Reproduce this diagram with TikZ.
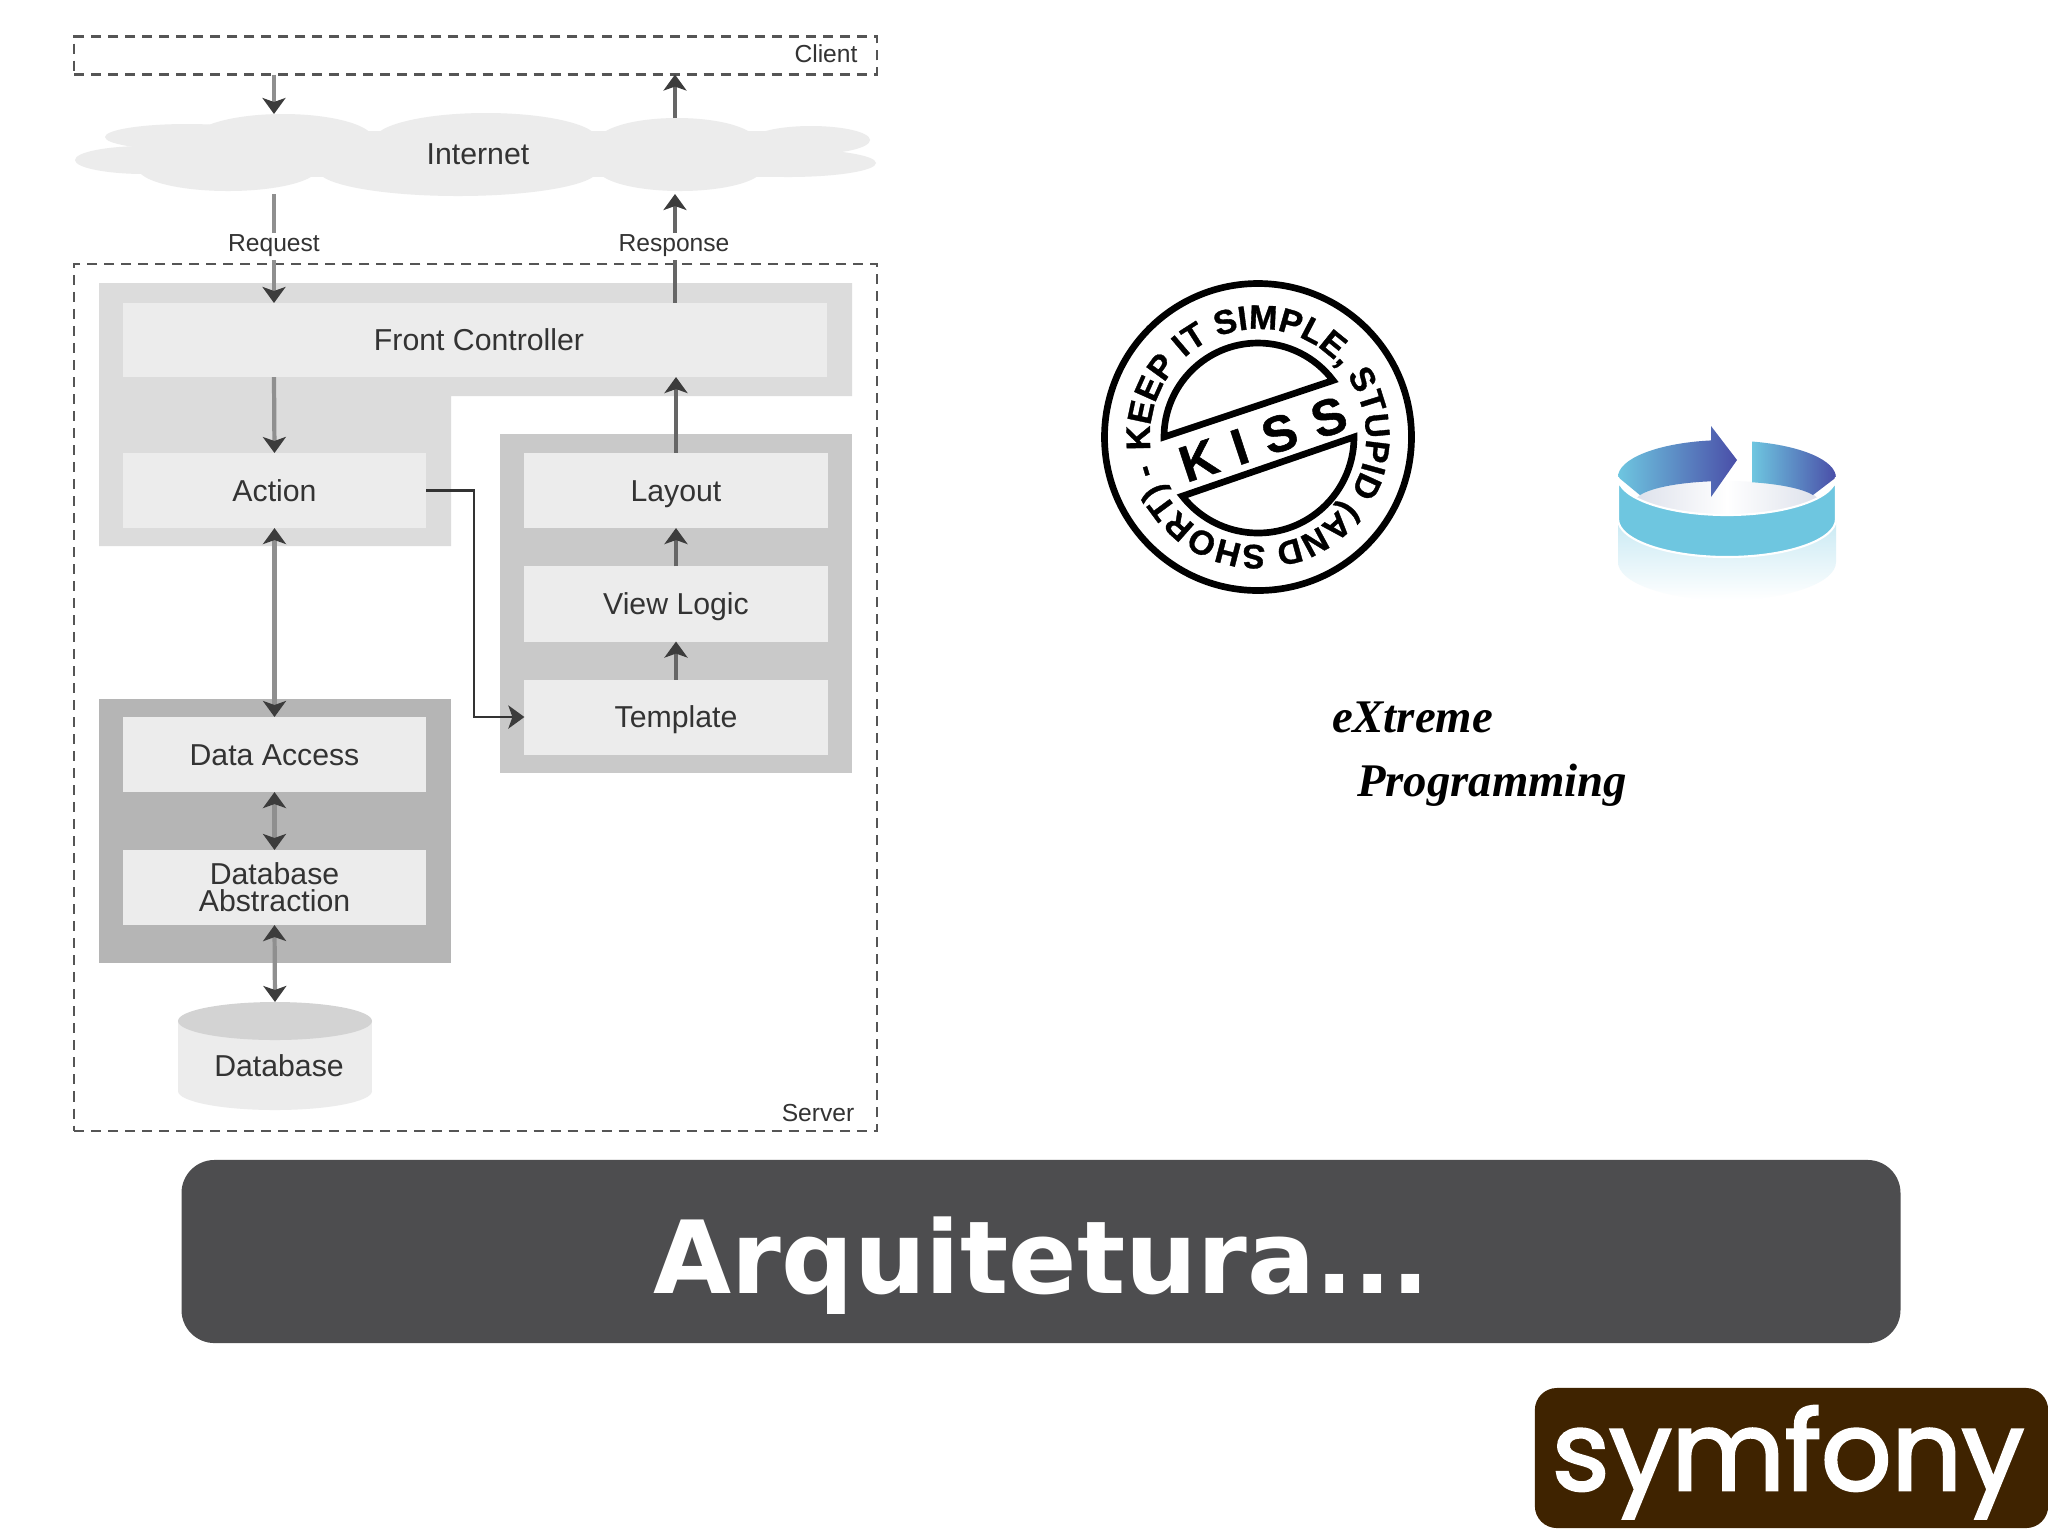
\documentclass[tikz,border=0pt]{standalone}
\usepackage{fontspec}
\usepackage{xcolor}
\usepackage{tikz}
\usetikzlibrary{arrows.meta,decorations.text}
\setmainfont{Liberation Sans}
\newfontfamily\titlefont{DejaVu Sans}
\newfontfamily\xpfont{Liberation Serif}
\newfontfamily\logofont[FakeBold=2.5]{Poppins}
\newfontfamily\stampfont[FakeBold=1]{Liberation Sans}
\newfontfamily\kissfont[LetterSpace=35,FakeBold=1]{Liberation Sans}
\definecolor{textgray}{HTML}{333333}
\definecolor{dashgray}{HTML}{555555}
\definecolor{headgray}{HTML}{3C3C3C}
\definecolor{shaftlight}{HTML}{8F8F8F}
\definecolor{shaftdark}{HTML}{666666}
\definecolor{boxgray}{HTML}{ECECEC}
\definecolor{ctrlgray}{HTML}{DCDCDC}
\definecolor{viewgray}{HTML}{C9C9C9}
\definecolor{datagray}{HTML}{B5B5B5}
\definecolor{dbtop}{HTML}{D3D3D3}
\definecolor{titlebar}{HTML}{4D4D4F}
\definecolor{logobrown}{HTML}{3F2300}
\definecolor{ringblue}{HTML}{6EC6E0}
\definecolor{ringdeep}{HTML}{4A4EA8}
\definecolor{ringpale}{HTML}{C8E9F3}
\definecolor{floorpale}{HTML}{DDE1EB}

\begin{document}
\begin{tikzpicture}[
    x=0.01cm, y=-0.01cm,
    >={Stealth[length=1.6mm,width=2.3mm,inset=0.4mm,color=headgray]},
    every node/.style={inner sep=0pt, outer sep=0pt, text=textgray,
      font=\fontsize{8.6}{7.6}\selectfont},
    dashbox/.style={draw=dashgray, line width=0.6pt, dash pattern=on 0.1cm off 0.07cm},
    tag/.style={font=\fontsize{7}{8}\selectfont},
    wirelabel/.style={tag, fill=white, minimum width=1.1cm, minimum height=0.27cm},
    smallbox/.style={fill=boxgray, minimum width=3.03cm, minimum height=0.75cm, align=center},
    rowtext/.style={text height=7pt, text depth=0.9pt},
    wire/.style={draw=shaftlight, line width=1.2pt},
    wiredark/.style={draw=shaftdark, line width=0.9pt},
    elbow/.style={draw=textgray, line width=0.8pt},
    xptext/.style={anchor=base west, text=black, font=\xpfont\bfseries\itshape\fontsize{13.3}{15}\selectfont}
  ]
  \useasboundingbox (0,0) rectangle (2048,1535);
  \fill[white] (0,0) rectangle (2048,1535);

  \coordinate (leftx) at (274,0);
  \coordinate (rightx) at (675,0);
  \coordinate (bendx) at (474,0);

  % client and server frames
  \node[dashbox, minimum width=8.02cm, minimum height=0.38cm] (client) at (475.5,55.5) {};
  \node[dashbox, minimum width=8.02cm, minimum height=8.67cm] (server) at (475.5,697.5) {};
  \node[tag] (clientlabel) at (826,54) {Client};
  \node[tag] (serverlabel) at (818,1113) {Server};

  % cloud
  \foreach \cx/\cy/\rx/\ry in {145/160/70/14, 187/137/82/13, 283/140/91/26, 486/140/112/27,
      677/142/80/24, 811/140/59/14, 788/163/88/14, 228/168/90/23, 458/170/140/26, 680/168/83/23}
    \fill[boxgray] (\cx,\cy) ellipse [x radius=\rx, y radius=\ry];
  \node[minimum width=6.4cm, minimum height=0.46cm, fill=boxgray] (internet) at (478,154) {Internet};
  \coordinate (cloudtop) at (478,114);
  \coordinate (cloudbot) at (478,194);

  % groups
  \fill[ctrlgray] (99,283) -- (852,283) -- (852,396) -- (451,396) -- (451,546) -- (99,546) -- cycle;
  \node[fill=viewgray, minimum width=3.52cm, minimum height=3.39cm] (viewgrp) at (676,603.5) {};
  \node[fill=datagray, minimum width=3.52cm, minimum height=2.64cm] (datagrp) at (275,831) {};

  \node[fill=boxgray, minimum width=7.04cm, minimum height=0.74cm] (front) at (475,340) {\hspace*{0.08cm}Front Controller};
  \node[smallbox, rowtext] (action) at (274.5,490.5) {Action};
  \node[smallbox, rowtext] (layout) at (676,490.5) {Layout};
  \node[smallbox, rowtext] (viewlogic) at (676,604) {View Logic};
  \node[smallbox, rowtext] (template) at (676,717) {Template};
  \node[smallbox, rowtext] (dataaccess) at (274.5,754.5) {Data Access};
  \node[smallbox] (dbabs) at (274.5,887.5) {Database\\Abstraction};

  % database
  \node[minimum width=1.94cm, minimum height=1.08cm] (db) at (275,1056) {};
  \fill[boxgray] (178,1021) rectangle (372,1091);
  \fill[boxgray] (275,1091) ellipse [x radius=97, y radius=19];
  \fill[dbtop] (275,1021) ellipse [x radius=97, y radius=19];
  \node (dblabel) at (279,1066) {Database};

  % connectors
  \draw[wire,->] (client.south -| leftx) -- (cloudtop -| leftx);
  \draw[wiredark,->] (cloudtop -| rightx) ++(0,4) -- (client.south -| rightx);
  \draw[wire,->] (cloudbot -| leftx) -- (front.north -| leftx);
  \draw[wiredark,->] (front.north -| rightx) -- (cloudbot -| rightx);
  \draw[wire,->] (front.south -| leftx) -- (action.north);
  \draw[wiredark,->] (layout.north) -- (front.south -| layout.north);
  \draw[wire,<->] (action.south) -- (dataaccess.north);
  \draw[wire,<->] (dataaccess.south) -- (dbabs.north);
  \draw[wire,<->] (dbabs.south) -- (db.north);
  \draw[wiredark,->] (viewlogic.north) -- (layout.south);
  \draw[wiredark,->] (template.north) -- (viewlogic.south);
  \draw[elbow,->] (action.east) -- (action.east -| bendx) |- (template.west);

  \node[wirelabel] (request) at (274,246) {Request};
  \node[wirelabel] (response) at (674,246) {Response};

  % stamp
  \begin{scope}[shift={(1258,437)}, y=0.01cm]
    \draw[black, line width=1.9pt] (0,0) circle [radius=153.5];
    \path[decorate, decoration={text along path,
        text={|\stampfont\fontsize{9.65}{10}\bfseries\color{black}|KEEP IT SIMPLE, STUPID (AND SHORT) -}}]
      (0,0) ++(187:108) arc [start angle=187, end angle=-171, radius=108];
    \draw[black, line width=1.9pt, line join=miter]
      (180:94) arc [start angle=180, end angle=37, radius=94] -- cycle;
    \draw[black, line width=1.9pt, line join=miter]
      (218:96) arc [start angle=218, end angle=360, radius=96] -- cycle;
    \node[rotate=18.3, text=black, font=\kissfont\fontsize{14.5}{15}\bfseries\selectfont] (kiss) at (5,-2) {KISS};
  \end{scope}

  % cycle icon
  \begin{scope}[shift={(1727,477)}, y=0.01cm]
    \shade[top color=ringpale, bottom color=white]
      (-109,-42) -- (-109,-85) arc [start angle=180, end angle=360, x radius=109, y radius=38] -- (109,-42) -- cycle;
    \shade[left color=floorpale, right color=floorpale, middle color=white]
      (0,-25) ellipse [x radius=92, y radius=21];
    \shade[left color=ringblue, right color=ringdeep]
      (25,35.5) arc [start angle=76.7, end angle=0, x radius=109, y radius=37]
      -- (86,-18) arc [start angle=20.8, end angle=74.2, x radius=92, y radius=21] -- cycle;
    \shade[left color=ringblue, right color=ringdeep]
      (-109,0) arc [start angle=180, end angle=98.4, x radius=109, y radius=37]
      -- (-16,51) -- (10,17) -- (-16,-20) -- (-16,-4.3)
      arc [start angle=100, end angle=161, x radius=92, y radius=21] -- cycle;
    \fill[ringblue, draw=white, line width=0.6pt]
      (-109,0) arc [start angle=180, end angle=360, x radius=109, y radius=38]
      -- (109,-42) arc [start angle=0, end angle=-180, x radius=109, y radius=38] -- cycle;
  \end{scope}

  \node[xptext] (xpa) at (1332,732) {eXtreme};
  \node[xptext] (xpb) at (1357,796) {Programming};

  % bottom bar and logo
  \node[fill=titlebar, rounded corners=0.33cm, minimum width=17.18cm, minimum height=1.83cm] (bar) at (1041,1251.5) {};
  \node[anchor=base, text=white, font=\titlefont\bfseries\fontsize{28.7}{30}\selectfont] (title) at (1042,1293) {Arquitetura...};
  \node[fill=logobrown, rounded corners=0.22cm, minimum width=5.13cm, minimum height=1.4cm] (logo) at (1791.5,1458) {};
  \node[anchor=base, text=white, font=\logofont\fontsize{31.3}{33}\selectfont] (logotext) at (1788,1490) {symfony};
\end{tikzpicture}
\end{document}
